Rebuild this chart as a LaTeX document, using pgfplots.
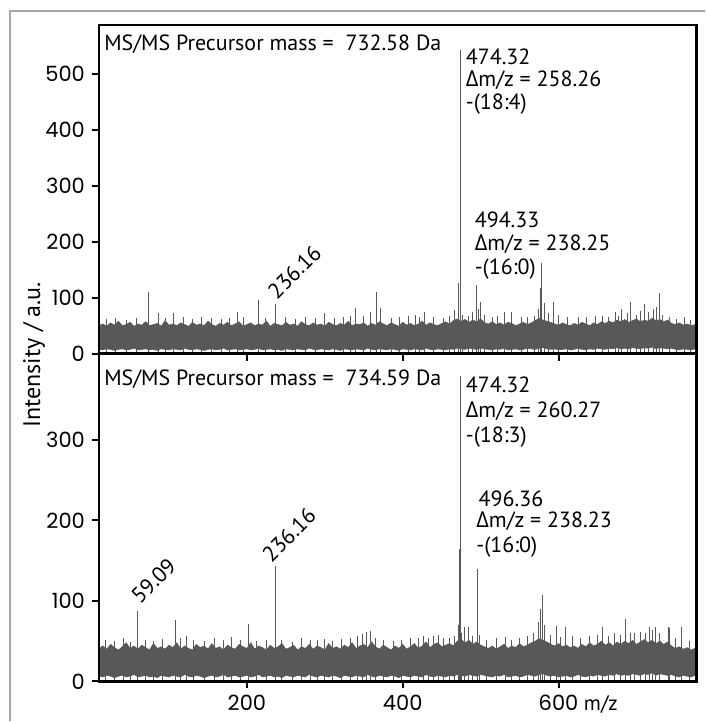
\documentclass[border=0pt]{standalone}
\usepackage{fontspec}
\setmainfont{PT Sans}
\newfontfamily\tickfont{Poppins}
\newfontfamily\deltafont{Open Sans}
\usepackage{pgfplots}
\usepackage{pgfplotstable}
\pgfplotsset{compat=1.18}

\definecolor{spec}{RGB}{88,88,88}
\newcommand{\af}{\fontsize{11}{13}\selectfont}
\newcommand{\dmz}{{\deltafont Δ}m/z}

% noise band of each spectrum: x, upper edge, lower edge
\pgfplotstableread[row sep=\\]{
x u l\\
10 50 7\\ 15 53 6\\ 20 49 8\\ 25 55 7\\ 30 51 5\\ 35 58 7\\ 40 50 8\\ 45 52 6\\ 50 56 7\\ 55 49 9\\
60 53 6\\ 65 51 7\\ 70 57 8\\ 75 50 6\\ 80 52 7\\ 85 54 5\\ 90 49 8\\ 95 59 7\\ 100 51 6\\ 105 53 8\\
110 50 7\\ 115 55 6\\ 120 52 9\\ 125 49 7\\ 130 56 6\\ 135 51 8\\ 140 53 7\\ 145 50 5\\ 150 58 7\\ 155 52 8\\
160 49 6\\ 165 54 7\\ 170 51 9\\ 175 56 6\\ 180 50 7\\ 185 53 8\\ 190 57 6\\ 195 49 7\\ 200 52 8\\ 205 55 6\\
210 50 7\\ 215 53 9\\ 220 51 6\\ 225 58 7\\ 230 49 8\\ 235 54 6\\ 240 52 7\\ 245 50 5\\ 250 56 8\\ 255 51 7\\
260 53 6\\ 265 49 8\\ 270 57 7\\ 275 52 6\\ 280 50 9\\ 285 55 7\\ 290 51 6\\ 295 53 8\\ 300 49 7\\ 305 56 6\\
310 52 8\\ 315 50 7\\ 320 54 5\\ 325 51 8\\ 330 58 7\\ 335 50 6\\ 340 53 8\\ 345 52 7\\ 350 55 6\\ 355 49 9\\
360 54 7\\ 365 51 6\\ 370 57 8\\ 375 53 7\\ 380 50 6\\ 385 55 8\\ 390 52 7\\ 395 49 5\\ 400 56 8\\ 405 51 7\\
410 54 6\\ 415 50 8\\ 420 53 7\\ 425 58 6\\ 430 51 9\\ 435 55 7\\ 440 52 6\\ 445 50 8\\ 450 54 7\\ 455 57 6\\
460 53 8\\ 465 59 7\\ 470 62 9\\ 475 58 8\\ 480 61 7\\ 485 56 9\\ 490 60 8\\ 495 57 7\\ 500 62 9\\ 505 55 8\\
510 53 7\\ 515 57 6\\ 520 52 8\\ 525 55 7\\ 530 51 9\\ 535 56 6\\ 540 54 7\\ 545 50 8\\ 550 53 6\\ 555 56 7\\
560 52 9\\ 565 55 8\\ 570 59 7\\ 575 63 9\\ 580 60 10\\ 585 58 8\\ 590 56 7\\ 595 53 8\\ 600 51 6\\ 605 55 7\\
610 52 8\\ 615 50 6\\ 620 54 7\\ 625 51 9\\ 630 56 7\\ 635 53 6\\ 640 50 8\\ 645 55 7\\ 650 52 9\\ 655 57 8\\
660 54 7\\ 665 58 9\\ 670 55 8\\ 675 60 10\\ 680 57 8\\ 685 61 9\\ 690 56 8\\ 695 59 10\\ 700 62 9\\ 705 57 8\\
710 60 10\\ 715 58 9\\ 720 63 11\\ 725 59 8\\ 730 61 10\\ 735 57 9\\ 740 60 8\\ 745 54 9\\ 750 52 7\\ 755 55 6\\
760 51 8\\ 765 53 7\\ 770 50 6\\ 775 52 8\\ 780 51 7\\
}\noiseA

\pgfplotstableread[row sep=\\]{
x u l\\
10 41 6\\ 15 44 5\\ 20 40 7\\ 25 46 6\\ 30 42 4\\ 35 39 6\\ 40 43 7\\ 45 48 5\\ 50 41 6\\ 55 44 8\\
60 40 5\\ 65 45 6\\ 70 42 7\\ 75 39 5\\ 80 47 6\\ 85 41 4\\ 90 43 7\\ 95 40 6\\ 100 45 5\\ 105 42 7\\
110 48 6\\ 115 40 5\\ 120 44 8\\ 125 41 6\\ 130 39 5\\ 135 46 7\\ 140 42 6\\ 145 44 4\\ 150 40 6\\ 155 47 7\\
160 41 5\\ 165 43 6\\ 170 39 8\\ 175 45 5\\ 180 42 6\\ 185 40 7\\ 190 46 5\\ 195 43 6\\ 200 41 7\\ 205 48 5\\
210 40 6\\ 215 44 8\\ 220 42 5\\ 225 39 6\\ 230 45 7\\ 235 41 5\\ 240 43 6\\ 245 47 4\\ 250 40 7\\ 255 42 6\\
260 45 5\\ 265 39 7\\ 270 43 6\\ 275 41 5\\ 280 46 8\\ 285 40 6\\ 290 44 5\\ 295 42 7\\ 300 39 6\\ 305 47 5\\
310 41 7\\ 315 43 6\\ 320 40 4\\ 325 45 7\\ 330 42 6\\ 335 48 5\\ 340 41 7\\ 345 44 6\\ 350 46 5\\ 355 42 8\\
360 49 6\\ 365 43 5\\ 370 40 7\\ 375 45 6\\ 380 42 5\\ 385 39 7\\ 390 44 6\\ 395 41 4\\ 400 46 7\\ 405 40 6\\
410 43 5\\ 415 47 7\\ 420 41 6\\ 425 44 5\\ 430 49 8\\ 435 42 6\\ 440 46 5\\ 445 48 7\\ 450 43 6\\ 455 45 5\\
460 47 7\\ 465 44 6\\ 470 50 8\\ 475 52 7\\ 480 48 6\\ 485 51 8\\ 490 46 7\\ 495 49 6\\ 500 45 8\\ 505 43 7\\
510 41 6\\ 515 44 5\\ 520 40 7\\ 525 43 6\\ 530 46 8\\ 535 41 5\\ 540 44 6\\ 545 42 7\\ 550 47 5\\ 555 43 6\\
560 45 8\\ 565 48 7\\ 570 50 6\\ 575 53 8\\ 580 51 9\\ 585 49 7\\ 590 46 6\\ 595 44 7\\ 600 47 5\\ 605 43 6\\
610 45 7\\ 615 42 5\\ 620 44 6\\ 625 41 8\\ 630 46 6\\ 635 43 5\\ 640 48 7\\ 645 44 6\\ 650 46 8\\ 655 50 7\\
660 45 6\\ 665 48 8\\ 670 44 7\\ 675 49 9\\ 680 46 7\\ 685 50 8\\ 690 47 7\\ 695 51 9\\ 700 46 8\\ 705 49 7\\
710 52 9\\ 715 48 8\\ 720 51 10\\ 725 47 7\\ 730 50 9\\ 735 46 8\\ 740 49 7\\ 745 44 8\\ 750 41 6\\ 755 43 5\\
760 40 7\\ 765 42 6\\ 770 39 5\\ 775 41 7\\ 780 40 6\\
}\noiseB

\pgfplotsset{specax/.style={
  scale only axis, width=299pt, xmin=10, xmax=777, ymin=0,
  anchor=south west, axis on top,
  axis line style={line width=1.3pt},
  tick style={black, line width=1pt}, major tick length=3.5pt,
  tick align=outside, xtick pos=left, ytick pos=left,
  xtick={200,400,600},
  ticklabel style={font=\fontsize{10.5}{12}\tickfont},
  /pgf/number format/assume math mode=true,
}}

\begin{document}
\begin{tikzpicture}
\draw[gray!70, line width=0.6pt] (5pt,0) -- (5pt,355.5pt) -- (353pt,355.5pt);

% ---- upper spectrum, precursor 732.58 Da
\begin{axis}[specax, at={(49.5pt,184pt)}, height=164.5pt, ymax=587,
  ytick={0,100,200,300,400,500}, xticklabels={,,}]
\addplot[fill=spec, draw=spec, line width=0.3pt] table[x=x,y=u]{\noiseA} \closedcycle;
\addplot[fill=white, draw=none] table[x=x,y=l]{\noiseA} \closedcycle;
\addplot[ycomb, draw=spec, line width=0.5pt, no marks] coordinates {
(20,62) (31,64) (45,61) (58,63) (73.5,111) (87,73) (96,64) (106,73) (118,65)
(130,62) (142,66) (155,63) (167,62) (178,64) (188,75) (196,65) (215,96) (224,63)
(237,89) (250,65) (262,62) (275,66) (288,63) (299,73) (312,64) (324,66) (333,67)
(340,82) (350,67) (358,75) (366,111) (372,82) (385,63) (396,65) (408,67) (416,70)
(422,66) (428,75) (440,65) (452,63) (460,67) (467,78) (471,126) (474.32,543)
(477,70) (485,68) (489,75) (494.33,123) (497,80) (500,93) (505,70) (515,66)
(522,67) (531,75) (540,75) (552,65) (560,66) (569,67) (574,80) (577,118)
(578.5,162) (582,90) (587,72) (593,92) (600,70) (612,65) (625,66) (636,65)
(648,67) (656,68) (664,66) (673,74) (677,68) (681,79) (688,72) (693,93) (700,70)
(705,76) (710,89) (716,74) (722,80) (726,84) (730,108) (734,70) (742,65)
(752,62) (762,66) (770,61)
};
\node[anchor=base west, inner sep=0, font=\af] at (axis cs:16.4,541) {MS/MS Precursor mass =\ \ 732.58 Da};
\node[anchor=base west, inner sep=0, font=\af] at (axis cs:480.5,516) {474.32};
\node[anchor=base west, inner sep=0, font=\af] at (axis cs:480.5,477) {\dmz{} = 258.26};
\node[anchor=base west, inner sep=0, font=\af] at (axis cs:480.5,436) {-(18:4)};
\node[anchor=base west, inner sep=0, font=\af] at (axis cs:492,225) {494.33};
\node[anchor=base west, inner sep=0, font=\af] at (axis cs:492,184) {\dmz{} = 238.25};
\node[anchor=base west, inner sep=0, font=\af] at (axis cs:492,141) {-(16:0)};
\node[rotate=45, inner sep=0, font=\af] at (axis cs:261,146) {236.16};
\end{axis}

% ---- lower spectrum, precursor 734.59 Da
\begin{axis}[specax, at={(49.5pt,20pt)}, height=164pt, ymax=407,
  ytick={0,100,200,300},
  xticklabels={200,400,{600\rlap{\rmfamily\ m/z}}}]
\addplot[fill=spec, draw=spec, line width=0.3pt] table[x=x,y=u]{\noiseB} \closedcycle;
\addplot[fill=white, draw=none] table[x=x,y=l]{\noiseB} \closedcycle;
\addplot[ycomb, draw=spec, line width=0.5pt, no marks] coordinates {
(18,52) (30,50) (42,54) (50,49) (60,88) (70,52) (80,50) (92,53) (108,76)
(115,54) (122,56) (132,52) (145,50) (158,54) (170,51) (180,55) (192,52) (202,71)
(212,50) (225,52) (236.16,143) (245,52) (258,49) (270,54) (282,51) (290,52)
(299,53) (310,50) (322,53) (333,54) (342,57) (348,59) (353,61) (358,63) (365,54)
(375,52) (388,50) (398,52) (410,54) (420,54) (427,57) (433,54) (440,57) (446,58)
(452,54) (460,54) (466,56) (471,70) (473,164) (474.32,379) (476,60) (479,68)
(484,67) (490,56) (496.36,140) (499,58) (508,52) (520,54) (532,55) (540,52)
(550,54) (560,57) (568,60) (574,74) (577,90) (579,107) (582,70) (590,58)
(597,69) (603,55) (609,68) (618,56) (628,54) (640,57) (650,58) (656,68) (664,57)
(672,60) (680,58) (686,78) (692,60) (698,60) (705,62) (711,60) (717,68) (721,64)
(725,68) (730,60) (741,68) (743,66) (750,54) (758,68) (768,50)
};
\node[anchor=base west, inner sep=0, font=\af] at (axis cs:16.4,367) {MS/MS Precursor mass =\ \ 734.59 Da};
\node[anchor=base west, inner sep=0, font=\af] at (axis cs:480.5,358.6) {474.32};
\node[anchor=base west, inner sep=0, font=\af] at (axis cs:480.5,327.5) {\dmz{} = 260.27};
\node[anchor=base west, inner sep=0, font=\af] at (axis cs:480.5,296.5) {-(18:3)};
\node[anchor=base west, inner sep=0, font=\af] at (axis cs:497,217) {496.36};
\node[anchor=base west, inner sep=0, font=\af] at (axis cs:494,191) {\dmz{} = 238.23};
\node[anchor=base west, inner sep=0, font=\af] at (axis cs:494,160) {-(16:0)};
\node[rotate=45, inner sep=0, font=\af] at (axis cs:254,182) {236.16};
\node[rotate=45, inner sep=0, font=\af] at (axis cs:80,125) {59.09};
\end{axis}

\node[rotate=90, font=\fontsize{12}{14}\selectfont] at (17pt,183.5pt) {Intensity / a.u.};
\useasboundingbox (0,0) rectangle (353pt,361pt);
\end{tikzpicture}
\end{document}
